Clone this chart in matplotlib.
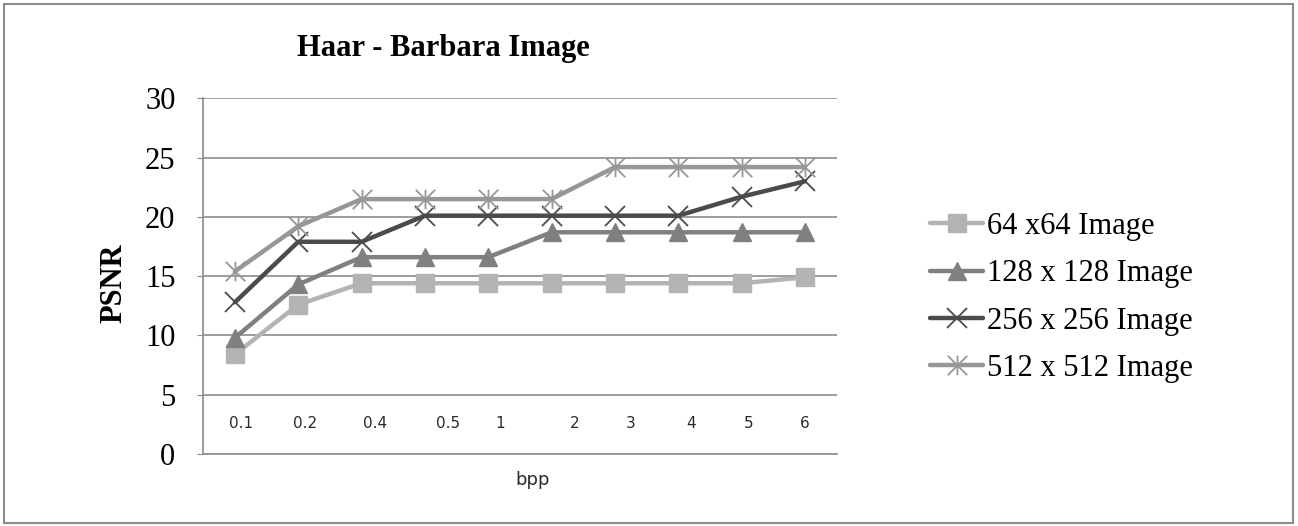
import numpy as np
import matplotlib.pyplot as plt
from matplotlib.path import Path
from matplotlib.patches import Rectangle

# datos
bpp = ["0.1", "0.2", "0.4", "0.5", "1", "2", "3", "4", "5", "6"]
psnr_64 = [8.4, 12.6, 14.4, 14.4, 14.4, 14.4, 14.4, 14.4, 14.4, 14.9]
psnr_128 = [9.8, 14.3, 16.6, 16.6, 16.6, 18.7, 18.7, 18.7, 18.7, 18.7]
psnr_256 = [12.8, 17.9, 17.9, 20.1, 20.1, 20.1, 20.1, 20.1, 21.7, 23.0]
psnr_512 = [15.4, 19.2, 21.5, 21.5, 21.5, 21.5, 24.2, 24.2, 24.2, 24.2]
nombres = ["64 x64 Image", "128 x 128 Image", "256 x 256 Image", "512 x 512 Image"]

serif = ["Liberation Serif", "DejaVu Serif"]

# marcador estrella tipo excel (x con linea vertical)
estrella = Path([(0, -1), (0, 1), (-1, -1), (1, 1), (-1, 1), (1, -1)],
                [Path.MOVETO, Path.LINETO, Path.MOVETO, Path.LINETO, Path.MOVETO, Path.LINETO])

fig = plt.figure(figsize=(12.98, 5.26), dpi=100)
ax = fig.add_axes([0.1566, 0.1369, 0.4879, 0.6762])

x = np.arange(len(bpp))
series = [psnr_64, psnr_128, psnr_256, psnr_512]
colores = ["#b3b3b3", "#808080", "#4b4b4b", "#979797"]
marcas = ["s", "^", "x", estrella]
tam = [13, 13, 14, 14]

for ys, nom, c, m, s in zip(series, nombres, colores, marcas, tam):
    ax.plot(x, ys, color=c, lw=3.2, marker=m, ms=s, mfc=c, mec=c,
            mew=1.3 if (m == "x" or m is estrella) else 1, label=nom,
            solid_capstyle="round", solid_joinstyle="round")

ax.set_xlim(-0.5, 9.5)
ax.set_ylim(0, 30)
ax.set_yticks(range(0, 31, 5))
ax.yaxis.grid(True, color="#8c8c8c", lw=1.2)
ax.set_axisbelow(True)
for lado in ["top", "right"]:
    ax.spines[lado].set_visible(False)
for lado in ["left", "bottom"]:
    ax.spines[lado].set_color("#8c8c8c")
    ax.spines[lado].set_linewidth(1.2)
ax.tick_params(axis="y", length=4, color="#8c8c8c", pad=16)
ax.tick_params(axis="x", length=0, labelbottom=False)
for t in ax.get_yticklabels():
    t.set_fontfamily(serif)
    t.set_fontsize(22)

# etiquetas de bpp dentro del area (como en el original, no alineadas con los puntos)
lbl_x = [0.1, 1.1, 2.22, 3.37, 4.19, 5.37, 6.25, 7.21, 8.12, 9.0]
for xi, lab in zip(lbl_x, bpp):
    ax.text(xi, 2.6, lab, ha="center", va="center", fontsize=11, color="#2a2a2a")

ax.set_ylabel("PSNR", fontfamily=serif, fontsize=22, fontweight="bold")
ax.yaxis.set_label_coords(-0.118, 0.481)
fig.text(533 / 1298, 1 - 480 / 526, "bpp", ha="center", va="center", fontsize=13, color="#2a2a2a")
fig.text(0.3413, 0.8935, "Haar - Barbara Image", ha="center", va="baseline",
         fontfamily=serif, fontsize=22, fontweight="bold")

leg = fig.legend(loc="center left", bbox_to_anchor=(0.705, 0.4344), frameon=False,
                 prop={"family": serif, "size": 22}, handlelength=1.73,
                 handletextpad=0.12, labelspacing=0.6, borderpad=0)

fig.add_artist(Rectangle((0.003, 0.006), 0.993, 0.986, transform=fig.transFigure,
                         fill=False, ec="#8c8c8c", lw=1.5))

fig.savefig("out.png", dpi=100)
